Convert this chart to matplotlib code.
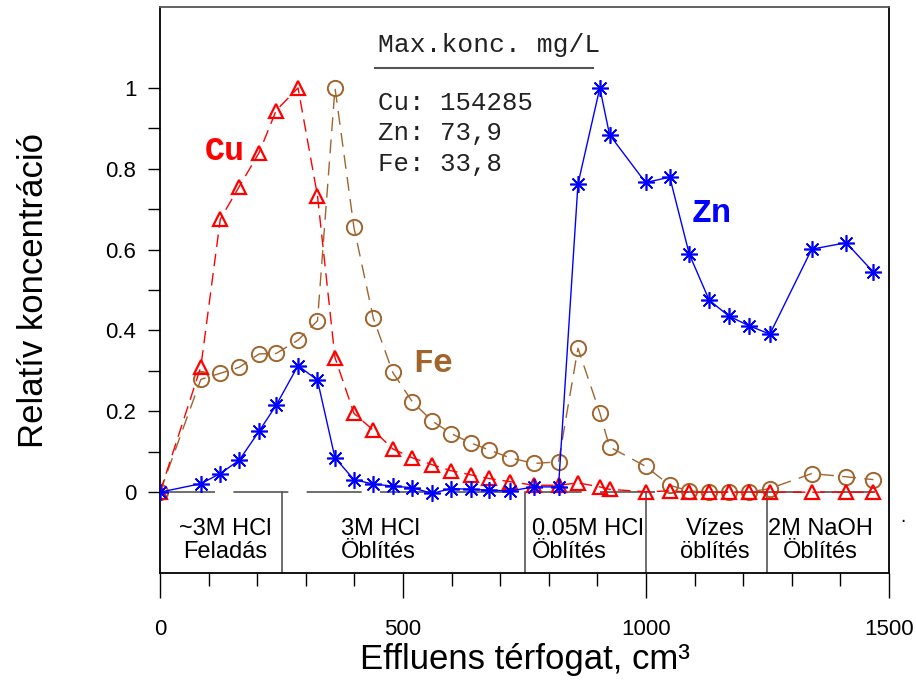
import numpy as np
import matplotlib.pyplot as plt

# effluent volume (cm3) for each sample
volume = [0, 84, 124, 163, 204, 239, 284, 324, 360, 399, 439, 479, 519, 560, 599, 639,
          676, 720, 770, 820, 860, 905, 925, 999, 1049, 1089, 1130, 1170, 1211, 1255,
          1341, 1412, 1468]

cu = [0, 0.31, 0.675, 0.756, 0.84, 0.944, 1.0, 0.733, 0.333, 0.195, 0.153, 0.107, 0.085,
      0.068, 0.053, 0.043, 0.034, 0.026, 0.017, 0.017, 0.023, 0.013, 0.007, 0.001, 0.003,
      0, 0, 0, 0, 0, 0, 0, 0]
fe = [0, 0.279, 0.294, 0.309, 0.342, 0.343, 0.376, 0.424, 1.0, 0.655, 0.43, 0.296, 0.224,
      0.176, 0.145, 0.122, 0.105, 0.085, 0.071, 0.075, 0.356, 0.196, 0.112, 0.064, 0.017,
      0.003, 0, 0, 0, 0.009, 0.046, 0.038, 0.031]
zn = [0, 0.021, 0.046, 0.079, 0.151, 0.215, 0.313, 0.277, 0.085, 0.031, 0.02, 0.015, 0.011,
      -0.003, 0.009, 0.007, 0.005, 0.003, 0.013, 0.013, 0.762, 1.0, 0.884, 0.766, 0.779,
      0.589, 0.475, 0.436, 0.412, 0.391, 0.601, 0.617, 0.544]

# rinsing stages
stage_edges = [250, 750, 1000, 1250]
stage_labels = ["~3M HCl\nFeladás", "3M HCl\nÖblítés", "0.05M HCl\nÖblítés",
                "Vízes\nöblítés", "2M NaOH\nÖblítés"]
stage_x = [134, 372, 765, 1142, 1358]
stage_ha = ["center", "left", "left", "center", "center"]

ytick_vals = [0, 0.1, 0.2, 0.3, 0.4, 0.5, 0.6, 0.7, 0.8, 0.9, 1.0]
ytick_labels = ["0", "", "0.2", "", "0.4", "", "0.6", "", "0.8", "", "1"]

maxconc = ["Cu: 154285", "Zn: 73,9", "Fe: 33,8"]

red = "#ff0000"
blue = "#0000ff"
brown = "#a0642d"
gray = "#555555"

fig = plt.figure(figsize=(9.16, 6.82), dpi=100)
ax = fig.add_axes([0.1747, 0.1598, 0.7958, 0.8299])

ax.plot(volume, fe, color=brown, lw=1.0, dashes=(10, 6), marker="o", ms=11,
        mfc="none", mec=brown, mew=1.4, zorder=3)
ax.plot(volume, cu, color=red, lw=1.0, dashes=(9, 5), marker="^", ms=10,
        mfc="none", mec=red, mew=1.6, zorder=4)
ax.plot(volume, zn, color=blue, lw=1.0, marker=(8, 2, 0), ms=12,
        mec=blue, mew=1.2, zorder=5)

# stage box under the curves
ax.plot([0, 1500], [0, 0], color=gray, lw=1.2, dashes=(33, 11), zorder=2)
for e in stage_edges:
    ax.plot([e, e], [0, -0.2], color=gray, lw=1.2, zorder=2)
for lab, sx, ha in zip(stage_labels, stage_x, stage_ha):
    ax.text(sx, -0.12, lab, ha=ha, va="center", multialignment=ha,
            fontsize=17, family="Liberation Sans", linespacing=1.05)

# series names
mono = "Liberation Mono"
ax.text(134, 0.842, "Cu", color=red, fontsize=24, fontweight="bold", family=mono,
        ha="center", va="center")
ax.text(562, 0.319, "Fe", color=brown, fontsize=24, fontweight="bold", family=mono,
        ha="center", va="center")
ax.text(1136, 0.69, "Zn", color=blue, fontsize=24, fontweight="bold", family=mono,
        ha="center", va="center")

# max concentration box
ax.text(449, 1.089, "Max.konc. mg/L", fontsize=19, family=mono, color="#222222",
        va="baseline")
ax.plot([443, 890], [1.048, 1.048], color=gray, lw=1.5)
for i, s in enumerate(maxconc):
    ax.text(449, 0.946 - i * 0.076, s, fontsize=18.5, family=mono, color="#222222",
            va="baseline")

ax.set_xlim(0, 1500)
ax.set_ylim(-0.2, 1.2)
ax.set_xticks([0, 500, 1000, 1500])
ax.set_xticks(np.arange(0, 1501, 100), minor=True)
ax.set_yticks(ytick_vals)
ax.set_yticklabels(ytick_labels)
ax.tick_params(axis="x", which="major", direction="out", length=18, width=1,
               labelsize=16, pad=15)
ax.tick_params(axis="x", which="minor", direction="out", length=9, width=1)
ax.tick_params(axis="y", direction="out", length=9, width=1, labelsize=16, pad=8)
for lab in ax.get_xticklabels() + ax.get_yticklabels():
    lab.set_family("Liberation Sans")

for sp in ax.spines.values():
    sp.set_linewidth(1.3)
ax.spines["top"].set_color(gray)

ax.set_xlabel("Effluens térfogat, cm³", fontsize=25, family="Liberation Sans", labelpad=2)
ax.set_ylabel("Relatív koncentráció", fontsize=25, family="Liberation Sans", labelpad=40)

fig.text(0.986, 0.235, "·", fontsize=12, ha="center", va="center")

fig.savefig("out.png", dpi=100)
